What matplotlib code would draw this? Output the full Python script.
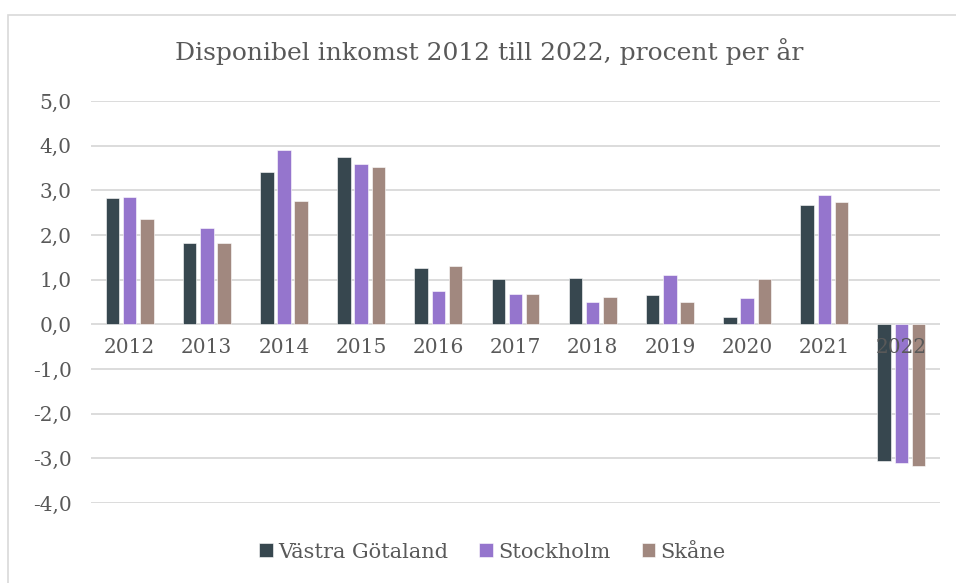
import numpy as np
import matplotlib
matplotlib.use("Agg")
import matplotlib.pyplot as plt
from matplotlib.patches import Rectangle

# ---- data ----
years = ["2012", "2013", "2014", "2015", "2016", "2017",
         "2018", "2019", "2020", "2021", "2022"]
vastra_gotaland = [2.82, 1.82, 3.42, 3.75, 1.27, 1.01, 1.03, 0.65, 0.16, 2.68, -3.05]
stockholm = [2.86, 2.16, 3.90, 3.59, 0.74, 0.68, 0.49, 1.11, 0.60, 2.90, -3.10]
skane = [2.36, 1.83, 2.76, 3.52, 1.31, 0.68, 0.61, 0.49, 1.02, 2.73, -3.18]
series_names = ["Västra Götaland", "Stockholm", "Skåne"]
yticks = [-4, -3, -2, -1, 0, 1, 2, 3, 4, 5]

colors = ["#37474F", "#9575CD", "#A1887F"]
text_color = "#595959"
grid_color = "#D9D9D9"

plt.rcParams['font.family'] = ['DejaVu Serif']

fig = plt.figure(figsize=(9.56, 5.83), dpi=100)
ax = fig.add_axes([0.0952, 0.1372, 0.8881, 0.6896])

# outer chart frame (cut off at the right and bottom like the reference)
fig.patches.append(Rectangle((8 / 956, -0.1), 1.2, 1 - 15 / 583 + 0.1,
                             transform=fig.transFigure, fill=False,
                             edgecolor=grid_color, linewidth=1.2))

x = np.arange(len(years))
width = 0.175
step = 0.223
for i, (vals, name) in enumerate(zip([vastra_gotaland, stockholm, skane], series_names)):
    ax.bar(x + (i - 1) * step, vals, width, color=colors[i], label=name,
           edgecolor="white", linewidth=0.4, zorder=3)

ax.set_xlim(-0.5, len(years) - 0.5)
ax.set_ylim(-4, 5)
ax.set_yticks(yticks)
ax.set_yticklabels([f"{v:.1f}".replace(".", ",") for v in yticks],
                   fontsize=14.5, color=text_color)
ax.tick_params(axis='y', length=0, pad=14)
ax.set_xticks([])
ax.grid(axis='y', color=grid_color, linewidth=1.3, zorder=0)
for s in ax.spines.values():
    s.set_visible(False)

# category labels sit just under the zero line, drawn over the bars
for xi, lab in zip(x, years):
    ax.annotate(lab, (xi, 0), xytext=(0, -10), textcoords="offset points",
                ha="center", va="top", fontsize=14.5, color=text_color, zorder=5)

fig.text(0.512, 1 - 52 / 583, "Disponibel inkomst 2012 till 2022, procent per år",
         ha="center", va="center", fontsize=18, color=text_color)

leg = fig.legend(loc="center", bbox_to_anchor=(0.515, 1 - 552 / 583), ncol=3,
                 frameon=False, fontsize=15, handlelength=0.65, handleheight=0.65,
                 handletextpad=0.25, columnspacing=1.5)
for t in leg.get_texts():
    t.set_color(text_color)

fig.savefig("out.png", dpi=100)
